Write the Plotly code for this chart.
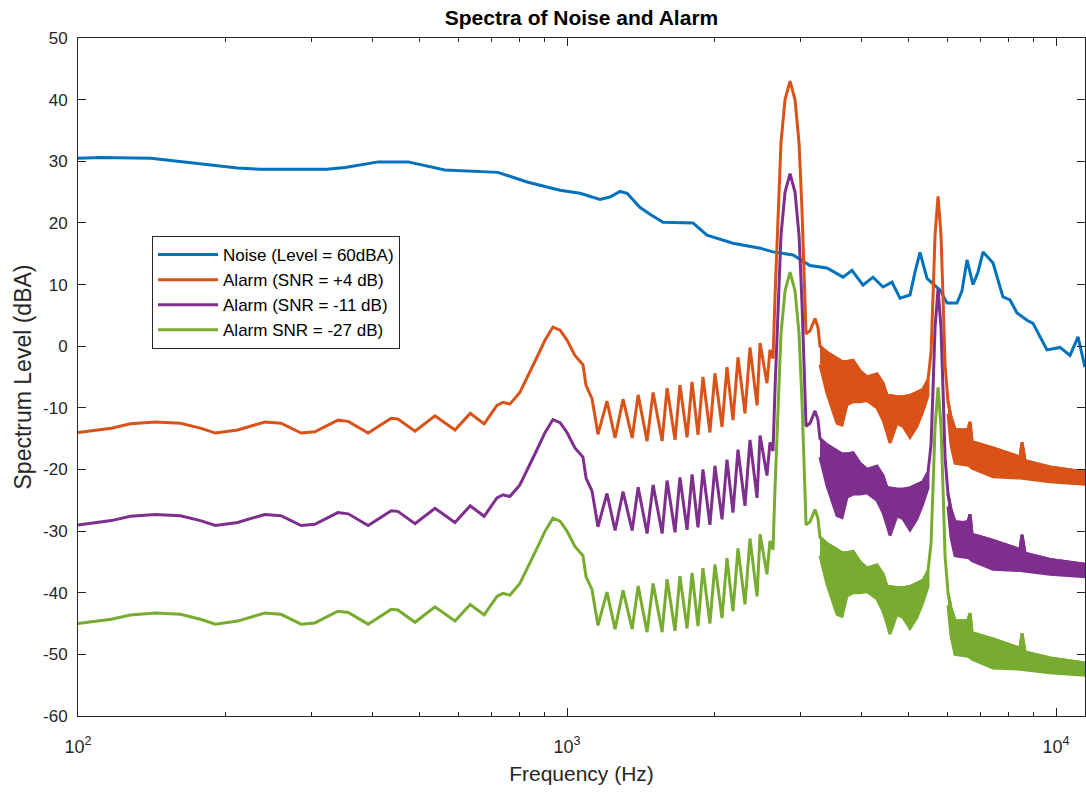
import math
import plotly.graph_objects as go

# ---------------- data ----------------
noise_freq = [100, 111, 141, 166, 187, 212, 237, 322, 352, 411,
              473, 563, 722, 832, 968, 1063, 1168, 1224, 1284, 1327,
              1411, 1478, 1572, 1810, 1871, 1933, 2185, 2482, 2638, 2899,
              3140, 3401, 3668, 3826, 4030, 4225, 4428, 4619, 4797, 5028,
              5148, 5271, 5448, 5792, 5986, 6274, 6424, 6577, 6766, 6926,
              7093, 7434, 7790, 8052, 8322, 8724, 8974, 9274, 9585, 10190,
              10681, 11092, 11463]
noise_db = [30.5, 30.6, 30.5, 29.9, 29.4, 28.9, 28.7, 28.7, 29.0, 29.9,
            29.9, 28.6, 28.2, 26.6, 25.3, 24.8, 23.8, 24.2, 25.1, 24.8,
            22.5, 21.4, 20.1, 20.0, 19.0, 18.0, 16.7, 15.9, 15.3, 14.8,
            13.1, 12.7, 11.2, 12.3, 9.9, 11.2, 9.6, 10.4, 7.8, 8.3,
            12.0, 15.2, 11.0, 9.1, 7.0, 7.0, 9.0, 14.0, 10.0, 12.0,
            15.3, 13.5, 8.0, 7.5, 5.4, 4.2, 3.7, 1.5, -0.6, -0.2,
            -1.5, 1.5, -3.4]

# Alarm spectrum at SNR = +4 dB, single-line part up to the first tone
alarm_f_a = [100, 117, 128, 144, 162, 178, 191, 212, 241, 260,
             286, 305, 340, 357, 392, 437, 451, 489, 537, 590,
             634, 677, 719, 740, 764, 801, 868, 902, 936, 968,
             1000, 1038, 1078, 1094, 1125, 1157, 1207, 1254, 1302, 1359,
             1398, 1458, 1500, 1565, 1602, 1663, 1702, 1760, 1802, 1853,
             1897, 1960, 2007, 2075, 2124, 2185, 2237, 2312, 2367, 2447,
             2482, 2564, 2601, 2638, 2663, 2701, 2739, 2792, 2858, 2926,
             2982, 3024, 3053, 3082, 3140, 3215, 3261]
alarm_db_a = [-14.0, -13.3, -12.6, -12.3, -12.5, -13.3, -14.1, -13.6, -12.3, -12.5,
              -14.1, -13.9, -12.0, -12.2, -14.1, -11.7, -11.8, -13.8, -11.3, -13.6,
              -10.9, -12.6, -9.6, -9.1, -9.4, -7.5, -1.8, 1.0, 3.1, 2.6,
              1.0, -1.5, -3.0, -6.4, -8.5, -14.3, -8.9, -14.9, -8.6, -14.9,
              -7.9, -15.4, -7.5, -15.4, -6.8, -15.2, -6.3, -14.8, -5.8, -14.4,
              -5.0, -14.0, -4.4, -13.1, -3.4, -12.0, -1.8, -10.9, -0.2, -9.6,
              0.5, -6.0, -0.6, -2.0, 8.0, 22.0, 33.0, 40.0, 43.0, 40.0,
              33.0, 22.0, 10.0, 2.0, 2.5, 4.5, 3.0]
# dense band between the two tones (upper / lower envelope)
alarm_f_b = [3291, 3401, 3566, 3651, 3738, 3846, 3973, 4106, 4304, 4428,
             4512, 4576, 4729, 4866, 5028, 5195, 5346, 5473]
alarm_hi_b = [0.0, -1.0, -2.0, -2.5, -2.5, -2.3, -4.0, -5.0, -4.5, -6.0,
              -8.0, -8.0, -8.2, -8.2, -8.0, -7.5, -7.0, -5.5]
alarm_lo_b = [-3.0, -7.6, -12.5, -12.8, -9.5, -9.0, -9.0, -8.8, -10.0, -12.0,
              -14.0, -15.7, -12.5, -13.0, -14.8, -13.0, -10.5, -8.0]
# second tone
alarm_f_c = [5552, 5604, 5658, 5738, 5819, 5874, 5931]
alarm_db_c = [-1.0, 8.0, 18.0, 24.3, 18.0, 8.0, -3.0]
# dense band above the second tone
alarm_f_d = [6014, 6099, 6215, 6453, 6607, 6671, 6734, 7434, 8441, 8521, 8642, 9721, 11463]
alarm_hi_d = [-9.0, -11.5, -13.5, -13.6, -13.5, -12.3, -15.5, -16.5, -18.0, -15.6, -18.6, -19.6, -20.4]
alarm_lo_d = [-11.0, -16.0, -19.0, -19.2, -19.3, -19.5, -19.8, -21.2, -21.4, -21.4, -21.5, -22.0, -22.4]

alarm_ref_snr = 4
series_names = ["Noise (Level = 60dBA)", "Alarm (SNR = +4 dB)",
                "Alarm (SNR = -11 dB)", "Alarm SNR = -27 dB)"]
alarm_snr = [4, -11, -27]
colors = ["#0072BD", "#D95319", "#7E2F8E", "#77AC30"]

x_major = [100, 1000, 10000]
x_major_text = ["10<sup>2</sup>", "10<sup>3</sup>", "10<sup>4</sup>"]
x_minor = [200, 300, 400, 500, 600, 700, 800, 900,
           2000, 3000, 4000, 5000, 6000, 7000, 8000, 9000, 20000]
y_ticks = list(range(-60, 51, 10))
y_tick_text = [str(v) for v in y_ticks]

# ---------------- figure ----------------
LW = 3
AX = "#262626"
fig = go.Figure()

fig.add_trace(go.Scatter(x=noise_freq, y=noise_db, mode="lines",
                         line=dict(color=colors[0], width=LW),
                         name=series_names[0]))

for k, snr in enumerate(alarm_snr):
    off = snr - alarm_ref_snr
    col = colors[k + 1]
    name = series_names[k + 1]
    grp = "g%d" % k
    up_f = alarm_f_a + alarm_f_b + alarm_f_c + alarm_f_d
    up_db = alarm_db_a + alarm_hi_b + alarm_db_c + alarm_hi_d
    fig.add_trace(go.Scatter(x=up_f, y=[v + off for v in up_db], mode="lines",
                             line=dict(color=col, width=LW), name=name,
                             legendgroup=grp))
    for bf, bh, bl in ((alarm_f_b, alarm_hi_b, alarm_lo_b),
                       (alarm_f_d, alarm_hi_d, alarm_lo_d)):
        px = bf + bf[::-1]
        py = [v + off for v in bh] + [v + off for v in bl[::-1]]
        fig.add_trace(go.Scatter(x=px, y=py, mode="lines", fill="toself",
                                 fillcolor=col, line=dict(color=col, width=LW),
                                 showlegend=False, legendgroup=grp,
                                 hoverinfo="skip"))

FONT = "Liberation Sans, Arial, Helvetica, sans-serif"
fig.update_layout(
    width=1086, height=792,
    margin=dict(l=78, r=1, t=38, b=76),
    paper_bgcolor="white", plot_bgcolor="white",
    font=dict(family=FONT, color=AX),
    title=dict(text="<b>Spectra of Noise and Alarm</b>", x=0.5, xref="paper",
               xanchor="center", y=1 - 18 / 792, yref="container", yanchor="middle",
               font=dict(size=21, color="#000000", family=FONT)),
    legend=dict(x=0.0735, y=0.708, xanchor="left", yanchor="top",
                bgcolor="white", bordercolor=AX, borderwidth=1,
                font=dict(size=17, color="#000000", family=FONT),
                itemwidth=60, tracegroupgap=0),
    xaxis=dict(type="log", range=[2, math.log10(11463)],
               tickmode="array", tickvals=x_major, ticktext=x_major_text,
               ticks="inside", ticklen=8, tickwidth=1, tickcolor=AX,
               minor=dict(tickmode="array", tickvals=x_minor, ticks="inside",
                          ticklen=4, tickwidth=1, tickcolor=AX, showgrid=False),
               showline=True, linecolor=AX, linewidth=1, mirror="ticks",
               showgrid=False, zeroline=False,
               tickfont=dict(size=18, color=AX), ticklabelstandoff=14,
               title=dict(text="Frequency (Hz)", font=dict(size=21, color=AX),
                          standoff=10)),
    yaxis=dict(range=[-60, 50], tickmode="array", tickvals=y_ticks,
               ticktext=y_tick_text,
               ticks="inside", ticklen=8, tickwidth=1, tickcolor=AX,
               showline=True, linecolor=AX, linewidth=1, mirror="ticks",
               showgrid=False, zeroline=False,
               tickfont=dict(size=17, color=AX), ticklabelstandoff=6,
               title=dict(text="Spectrum Level (dBA)", font=dict(size=23, color=AX),
                          standoff=4)),
)

fig.write_html("out.html")
